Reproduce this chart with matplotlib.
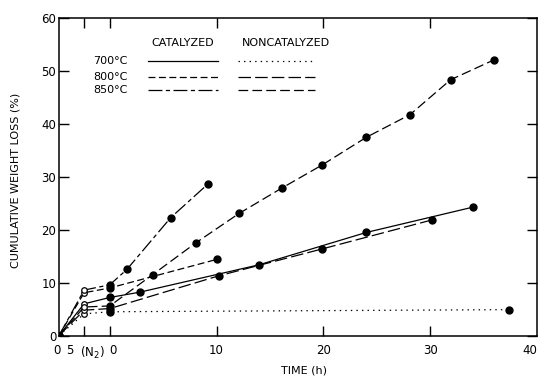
import matplotlib
matplotlib.use("Agg")
import matplotlib.pyplot as plt
from matplotlib.lines import Line2D

plt.rcParams['font.family'] = ['DejaVu Sans']
plt.rcParams['lines.scale_dashes'] = False

# N2 pretreatment (min) is drawn on a squeezed scale left of gasification time 0
n2_time = [0, 5]
N2_LEFT, N2_SCALE = -4.75, 0.47

# gasification time (h) / cumulative weight loss (%)
cat700_n2 = [0, 6.0]
cat700_t = [0, 2.8, 14.0, 24.0, 34.0]
cat700_w = [7.2, 8.2, 13.4, 19.5, 24.3]

cat800_n2 = [0, 8.1]
cat800_t = [0, 10.0]
cat800_w = [9.0, 14.4]

cat850_n2 = [0, 8.6]
cat850_t = [0, 1.6, 5.7, 9.2]
cat850_w = [9.6, 12.5, 22.3, 28.7]

non700_n2 = [0, 4.1]
non700_t = [0, 37.4]
non700_w = [4.5, 4.9]

non800_n2 = [0, 4.8]
non800_t = [0, 10.2, 19.9, 30.2]
non800_w = [5.1, 11.3, 16.4, 21.9]

non850_n2 = [0, 5.4]
non850_t = [0, 4.0, 8.1, 12.1, 16.1, 19.9, 24.0, 28.1, 31.9, 36.0]
non850_w = [5.6, 11.5, 17.6, 23.1, 27.9, 32.3, 37.5, 41.8, 48.4, 52.2]

ls_cat700 = '-'
ls_cat800 = (0, (5, 2.5))
ls_cat850 = (0, (10, 2.5, 3, 2.5))
ls_non700 = (0, (1, 3))
ls_non800 = (0, (9, 3))
ls_non850 = (0, (7, 3))

fig = plt.figure(figsize=(5.39, 3.77), dpi=100)
ax = fig.add_axes([0.1095, 0.110, 0.887, 0.841])


def n2x(t):
    return [N2_LEFT + v * N2_SCALE for v in t]


series = [
    (cat700_n2, cat700_t, cat700_w, ls_cat700),
    (cat800_n2, cat800_t, cat800_w, ls_cat800),
    (cat850_n2, cat850_t, cat850_w, ls_cat850),
    (non700_n2, non700_t, non700_w, ls_non700),
    (non800_n2, non800_t, non800_w, ls_non800),
    (non850_n2, non850_t, non850_w, ls_non850),
]

for n2w, t, w, ls in series:
    xs = n2x(n2_time) + list(t)
    ys = list(n2w) + list(w)
    ax.plot(xs, ys, color='black', lw=0.9, ls=ls)
    ax.plot(xs[2:], ys[2:], 'o', color='black', ms=5, ls='none')
    ax.plot(xs[:1], ys[:1], 'o', color='black', ms=5, ls='none')
    ax.plot(xs[1:2], ys[1:2], 'o', mfc='white', mec='black', mew=0.9, ms=4, ls='none')

ax.set_xlim(N2_LEFT, 40)
ax.set_ylim(0, 60)

xt = n2x([5]) + [0, 10, 20, 30]
ax.set_xticks(xt)
ax.set_xticklabels([])
ax.set_yticks([0, 10, 20, 30, 40, 50, 60])
ax.set_yticklabels(['0', '10', '20', '30', '40', '50', '60'])
ax.tick_params(direction='in', length=7, width=1, top=True, right=True,
               labelsize=8.5, pad=2)
for s in ax.spines.values():
    s.set_linewidth(1.1)

# x tick labels, including the N2 pretreatment part
tr = ax.get_xaxis_transform()
for x, s in [(n2x([0])[0] - 0.2, '0'), (n2x([5])[0] - 1.3, '5'),
             (-1.6, '(N$_2$)'), (0.25, '0'), (10, '10'), (20, '20'),
             (30, '30'), (39.3, '40')]:
    ax.text(x, -0.028, s, transform=tr, ha='center', va='top', fontsize=8.5)

ax.set_xlabel('TIME (h)', fontsize=8)
ax.xaxis.set_label_coords(0.513, -0.095)
ax.set_ylabel('CUMULATIVE WEIGHT LOSS (%)', fontsize=8)
ax.yaxis.set_label_coords(-0.08, 0.49)

# legend block
ax.text(0.259, 0.923, 'CATALYZED', transform=ax.transAxes, ha='center',
        va='center', fontsize=8)
ax.text(0.474, 0.923, 'NONCATALYZED', transform=ax.transAxes, ha='center',
        va='center', fontsize=8)
rows = [('700°C', 0.866, ls_cat700, ls_non700),
        ('800°C', 0.815, ls_cat800, ls_non800),
        ('850°C', 0.773, ls_cat850, ls_non850)]
for lab, y, lc, ln in rows:
    ax.text(0.144, y, lab, transform=ax.transAxes, ha='right', va='center',
            fontsize=8)
    ax.add_line(Line2D([0.186, 0.333], [y, y], transform=ax.transAxes,
                       color='black', lw=0.9, ls=lc))
    ax.add_line(Line2D([0.374, 0.536], [y, y], transform=ax.transAxes,
                       color='black', lw=0.9, ls=ln))

fig.savefig('out.png', dpi=100)
